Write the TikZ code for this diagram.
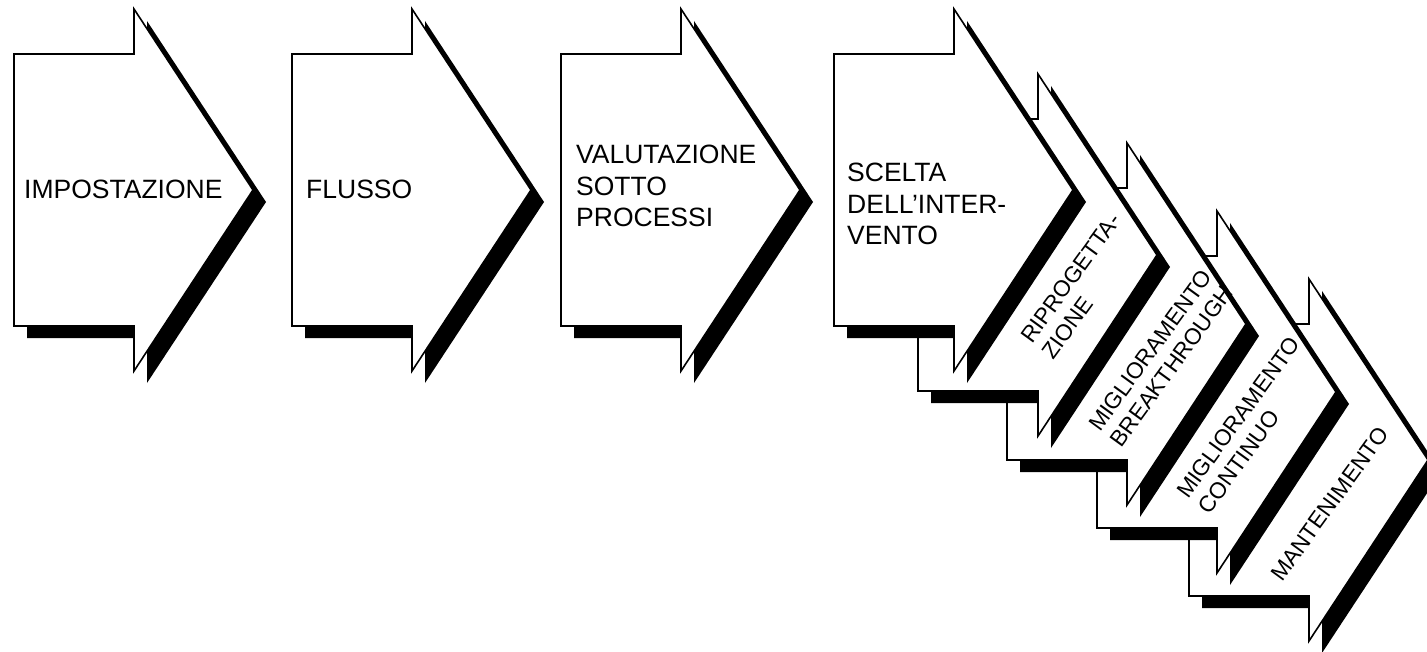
\documentclass[tikz,border=0pt]{standalone}
\usepackage{fontspec}
\setmainfont{Liberation Sans}
\tikzset{
  stagebox/.style={draw=black, line width=1.6pt, fill=white, line join=miter},
  stageshadow/.style={fill=black},
  % labels are anchored at the start of the baseline of their last line
  flatlabel/.style={anchor=base west, inner sep=0pt, align=left,
    font=\fontsize{26.5}{31.5}\selectfont},
  tiltlabel/.style={anchor=base west, inner sep=0pt, align=left, rotate=54,
    font=\fontsize{22.7}{26.6}\selectfont},
  % process arrow with a drop shadow; origin = left end of the head's top corner line
  pics/stage/.style={code={
    \fill[stageshadow, shift={(13,12)}]
      (0,45) -- (120,45) -- (120,0) -- (239,181) -- (120,362) -- (120,317) -- (0,317) -- cycle;
    \draw[stagebox]
      (0,45) -- (120,45) -- (120,0) -- (239,181) -- (120,362) -- (120,317) -- (0,317) -- cycle;
  }},
}
\begin{document}
\begin{tikzpicture}[x=1pt, y=-1pt]
  \clip (0,0) rectangle (1427,652);
  \fill[white] (0,0) rectangle (1427,652);

  % the four alternative interventions, stacked behind the fourth step
  \pic at (1189,279) {stage};
  \node[tiltlabel] (mant) at (1282,583) {MANTENIMENTO};
  \pic at (1097,211) {stage};
  \node[tiltlabel] (cont) at (1209.5,515.6) {MIGLIORAMENTO\\CONTINUO};
  \pic at (1007,143) {stage};
  \node[tiltlabel] (break) at (1121.5,448.6) {MIGLIORAMENTO\\BREAKTHROUGH};
  \pic at (918,74) {stage};
  \node[tiltlabel] (ripr) at (1053.5,360.6) {RIPROGETTA-\\ZIONE};

  % main sequence of steps
  \pic at (834,9) {stage};
  \node[flatlabel] (scelta) at (847,245) {SCELTA\\DELL’INTER-\\VENTO};
  \pic at (561,9) {stage};
  \node[flatlabel] (valut) at (576,227) {VALUTAZIONE\\SOTTO\\PROCESSI};
  \pic at (292,9) {stage};
  \node[flatlabel] (flusso) at (306,199) {FLUSSO};
  \pic at (14,9) {stage};
  \node[flatlabel] (impost) at (24,199) {IMPOSTAZIONE};
\end{tikzpicture}
\end{document}
